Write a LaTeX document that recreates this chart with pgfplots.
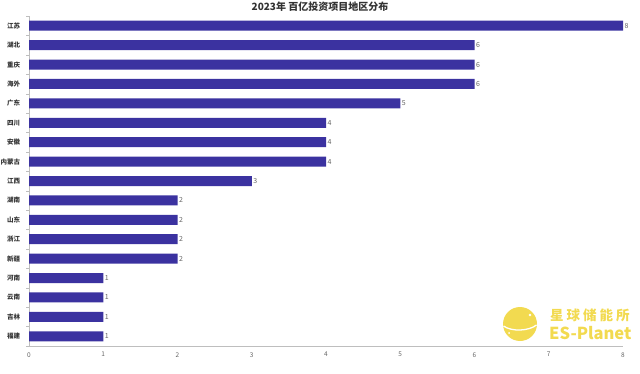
\documentclass[border=0pt]{standalone}
\usepackage{pgfplots}
\pgfplotsset{compat=1.18}
\usepackage{fontspec}
\setmainfont{Noto Sans CJK SC}
\definecolor{barc}{RGB}{59,50,160}
\definecolor{logoc}{RGB}{242,218,80}
\definecolor{axc}{RGB}{190,190,190}
\definecolor{txt}{RGB}{51,51,51}
\definecolor{lab}{RGB}{100,100,100}
\begin{document}
\begin{tikzpicture}[x=1pt,y=1pt]
\path[use as bounding box] (0,0) rectangle (640,373);
\begin{axis}[
  at={(29pt,27pt)}, anchor=south west, scale only axis,
  width=594pt, height=330pt,
  xbar, bar width=10pt,
  xmin=0, xmax=8, ymin=-0.5, ymax=16.5, y dir=reverse,
  ytick={0,...,16},
  yticklabels={江苏,湖北,重庆,海外,广东,四川,安徽,内蒙古,江西,湖南,山东,浙江,新疆,河南,云南,吉林,福建},
  yticklabel style={font=\fontsize{6.5}{7}\selectfont\bfseries, text=txt, xshift=-1pt},
  major y tick style={draw=none},
  minor ytick={-0.5,0.5,...,16.5},
  minor y tick style={draw=axc},
  minor tick length=3pt,
  xtick={0,...,8},
  xticklabel style={font=\fontsize{6.5}{7}\selectfont, text=lab, yshift=1.5pt},
  /pgf/number format/assume math mode=true,
  major x tick style={draw=none},
  tick align=outside,
  axis x line*=bottom, axis y line*=left,
  x axis line style={draw=axc, -}, y axis line style={draw=axc, -},
  clip=false,
  nodes near coords,
  nodes near coords style={font=\fontsize{7}{8}\selectfont, text=lab, anchor=west, xshift=-2pt},
]
\addplot[fill=barc, draw=none] coordinates {
(8,0) (6,1) (6,2) (6,3) (5,4) (4,5) (4,6) (4,7) (3,8) (2,9) (2,10) (2,11) (2,12) (1,13) (1,14) (1,15) (1,16)};
\end{axis}
\node[font=\fontsize{10}{12}\selectfont\bfseries, text=txt] at (320,366) {2023年 百亿投资项目地区分布};
% watermark logo
\fill[logoc] (520,49) circle (17);
\draw[white, line width=1.3pt] (503.5,47) .. controls (512,41) and (529,42) .. (536.5,48);
\fill[white] (530,58) circle (1.3);
\fill[white] (509,40) circle (1);
\node[font=\fontsize{13.5}{14}\selectfont\bfseries, text=logoc, anchor=west, inner sep=0] at (550,57.5) {星\hspace{3pt}球\hspace{3pt}储\hspace{3pt}能\hspace{3pt}所};
\node[font=\fontsize{16.5}{17}\selectfont\bfseries, text=logoc, anchor=west, inner sep=0] at (549,39.5) {ES-Planet};
\end{tikzpicture}
\end{document}
